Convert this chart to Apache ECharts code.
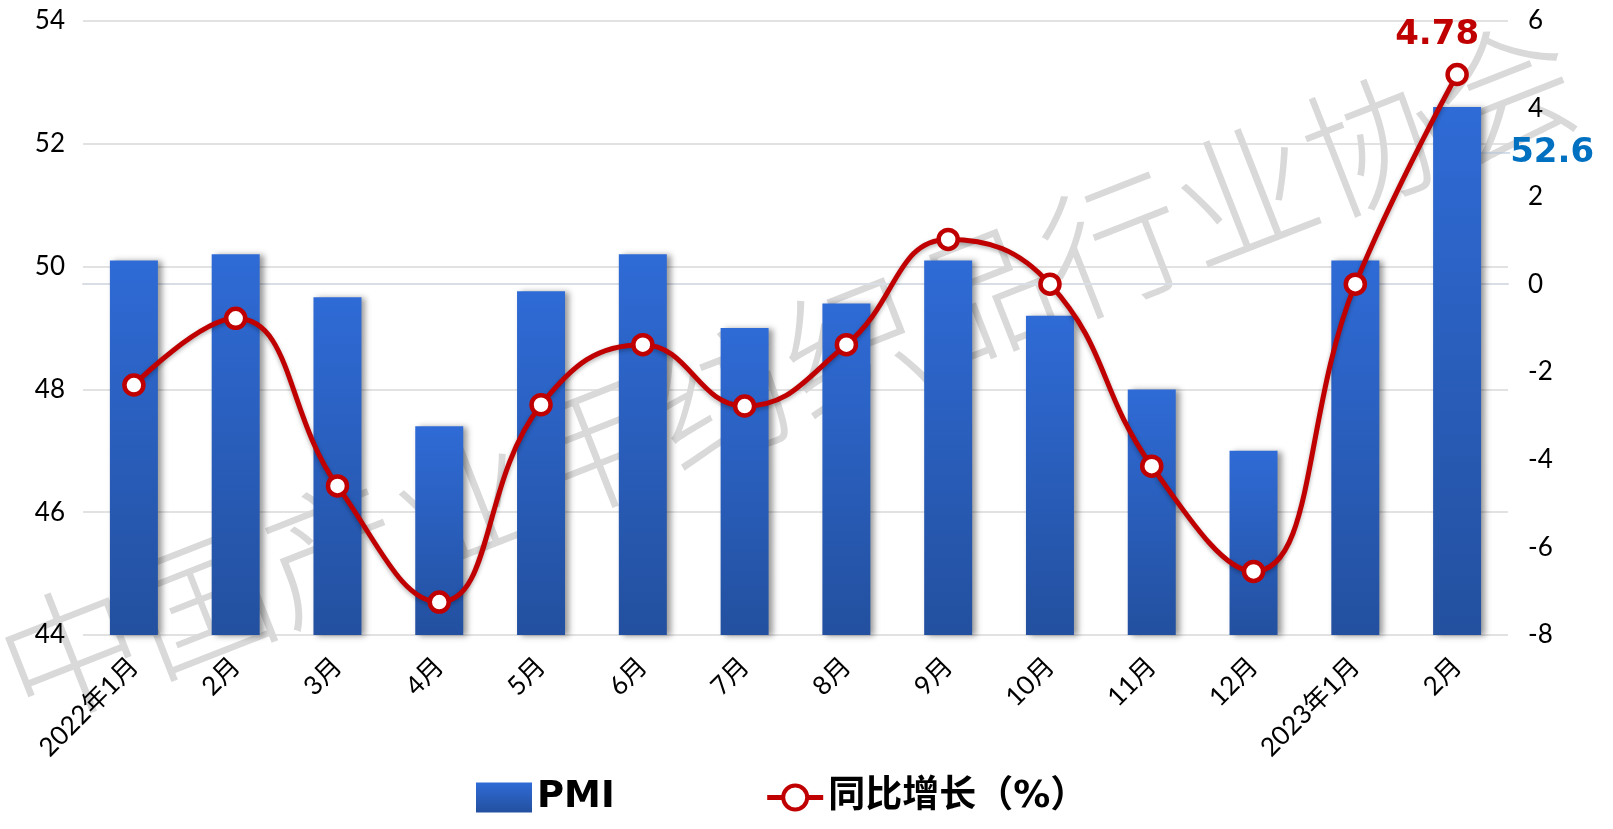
<!DOCTYPE html>
<html><head><meta charset="utf-8">
<script src="https://cdn.jsdelivr.net/npm/echarts@6/dist/echarts.min.js"></script>
<style>html,body{margin:0;padding:0;background:#fff}#c{width:1613px;height:829px}</style>
</head><body><div id="c"></div>
<script>
const categories = ['2022年1月','2月','3月','4月','5月','6月','7月','8月','9月','10月','11月','12月','2023年1月','2月'];
const pmiValues = [50.1, 50.2, 49.5, 47.4, 49.6, 50.2, 49.0, 49.4, 50.1, 49.2, 48.0, 47.0, 50.1, 52.6];
const yoyValues = [-2.3, -0.78, -4.6, -7.25, -2.75, -1.38, -2.78, -1.38, 1.02, 0.0, -4.15, -6.55, 0.0, 4.78];
const leftTicks = {min: 44, max: 54, interval: 2};
const rightTicks = {min: -8, max: 6, interval: 2};
const watermark = '中国产业用纺织品行业协会';

const FONT = "Lato, 'Noto Sans CJK SC', sans-serif";
const chart = echarts.init(document.getElementById('c'));
const n = pmiValues.length;
chart.setOption({
  animation: false,
  backgroundColor: '#fff',
  textStyle: {fontFamily: FONT},
  grid: {left: 83, right: 105, top: 21, bottom: 194},
  graphic: {
    z: -10, zlevel: 0,
    elements: [{
      type: 'text', z: -10,
      x: 788, y: 372, rotation: 21.4 * Math.PI / 180, silent: true,
      style: {text: watermark, fill: '#d9d9d9', font: "300 140px 'Noto Sans CJK SC'", align: 'center', verticalAlign: 'middle'}
    }]
  },
  legend: {
    left: 471, bottom: 8, itemGap: 150, itemWidth: 56, itemHeight: 30,
    textStyle: {fontSize: 37, fontWeight: 'bold', color: '#000', fontFamily: "'DejaVu Sans', 'Noto Sans CJK SC', sans-serif"},
    data: [
      {name: 'PMI', icon: 'rect'},
      {name: '同比增长（%）', lineStyle: {width: 5, color: '#c00000'}, itemStyle: {color: '#fff', borderColor: '#c00000', borderWidth: 4}}
    ]
  },
  xAxis: {
    type: 'category', data: categories,
    axisLine: {lineStyle: {color: '#d9dde6', width: 2}},
    axisTick: {show: false},
    axisLabel: {rotate: 45, fontSize: 26, color: '#000', margin: 27, interval: 0}
  },
  yAxis: [{
    type: 'value', min: leftTicks.min, max: leftTicks.max, interval: leftTicks.interval,
    axisLabel: {fontSize: 26, color: '#000', margin: 18},
    splitLine: {lineStyle: {color: '#d9d9d9', width: 1.5}},
    axisLine: {show: false}
  }, {
    type: 'value', min: rightTicks.min, max: rightTicks.max, interval: rightTicks.interval,
    axisLabel: {fontSize: 26, color: '#000', margin: 20},
    splitLine: {show: false}, axisLine: {show: false}
  }],
  series: [{
    name: 'PMI', type: 'bar', barWidth: 48, yAxisIndex: 0,
    data: pmiValues.map((v, i) => i === n - 1 ? {
      value: v,
      label: {show: true, position: 'top', formatter: '{c}', fontSize: 34, fontWeight: 'bold', color: '#0070c0', fontFamily: "'DejaVu Sans'"},
      labelLine: {show: true, lineStyle: {color: '#b8c8dc', width: 1.2}}
    } : v),
    labelLayout: {dx: 95, dy: 68},
    itemStyle: {
      color: new echarts.graphic.LinearGradient(0, 0, 0, 1, [{offset: 0, color: '#2f6bd6'}, {offset: 1, color: '#23509f'}]),
      shadowColor: 'rgba(0,0,0,0.4)', shadowBlur: 6, shadowOffsetX: 4, shadowOffsetY: 1
    },
    z: 2
  }, {
    name: '同比增长（%）', type: 'line', yAxisIndex: 1, smooth: 0.45,
    data: yoyValues.map((v, i) => i === n - 1 ? {
      value: v,
      label: {show: true, position: 'top', offset: [-20, -6], formatter: '{c}', fontSize: 34, fontWeight: 'bold', color: '#c00000', fontFamily: "'DejaVu Sans'"}
    } : v),
    symbol: 'circle', symbolSize: 19,
    lineStyle: {color: '#c00000', width: 5, shadowColor: 'rgba(0,0,0,0.3)', shadowBlur: 4, shadowOffsetY: 2},
    itemStyle: {color: '#fff', borderColor: '#c00000', borderWidth: 4.5},
    z: 3
  }]
});
</script></body></html>
